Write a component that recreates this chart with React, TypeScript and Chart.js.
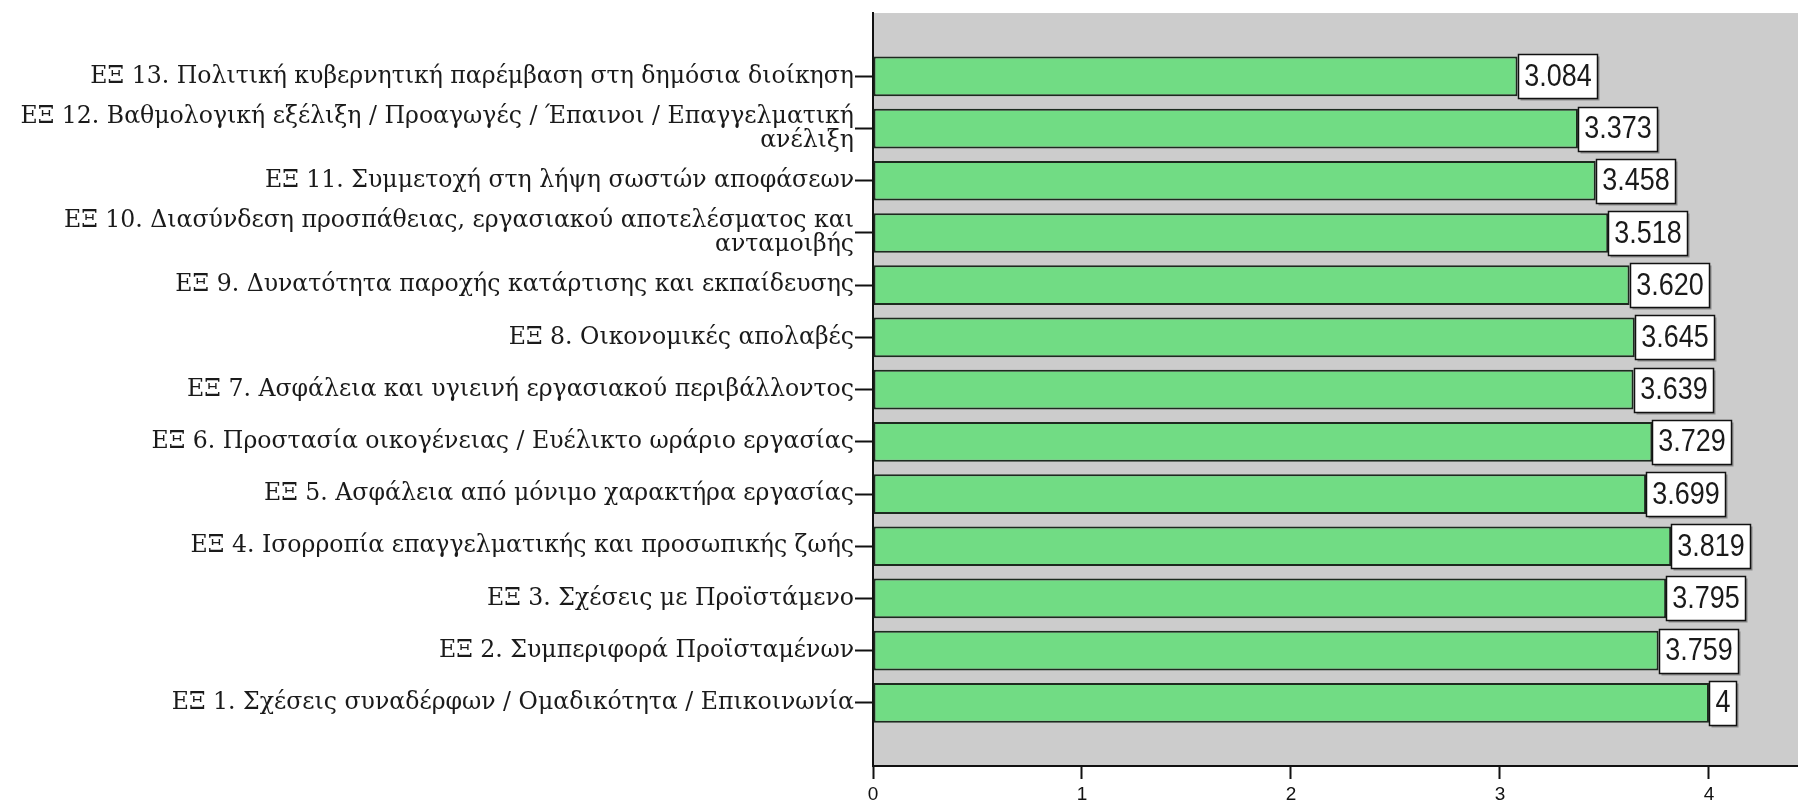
import React, { useEffect, useRef } from "react";
import { Chart, registerables } from "chart.js";

Chart.register(...registerables);

// Factor labels, bottom (ΕΞ 1) to top (ΕΞ 13)
const factorLabels: (string | string[])[] = [
  "ΕΞ 1. Σχέσεις συναδέρφων / Ομαδικότητα / Επικοινωνία",
  "ΕΞ 2. Συμπεριφορά Προϊσταμένων",
  "ΕΞ 3. Σχέσεις με Προϊστάμενο",
  "ΕΞ 4. Ισορροπία επαγγελματικής και προσωπικής ζωής",
  "ΕΞ 5. Ασφάλεια από μόνιμο χαρακτήρα εργασίας",
  "ΕΞ 6. Προστασία οικογένειας / Ευέλικτο ωράριο εργασίας",
  "ΕΞ 7. Ασφάλεια και υγιεινή εργασιακού περιβάλλοντος",
  "ΕΞ 8. Οικονομικές απολαβές",
  "ΕΞ 9. Δυνατότητα παροχής κατάρτισης και εκπαίδευσης",
  ["ΕΞ 10. Διασύνδεση προσπάθειας, εργασιακού αποτελέσματος και", "ανταμοιβής"],
  "ΕΞ 11. Συμμετοχή στη λήψη σωστών αποφάσεων",
  ["ΕΞ 12. Βαθμολογική εξέλιξη / Προαγωγές / Έπαινοι / Επαγγελματική", "ανέλιξη"],
  "ΕΞ 13. Πολιτική κυβερνητική παρέμβαση στη δημόσια διοίκηση",
];

// Mean score per factor, same order as the labels
const meanScores: number[] = [
  4, 3.759, 3.795, 3.819, 3.699, 3.729, 3.639, 3.645, 3.62, 3.518, 3.458, 3.373, 3.084,
];

const xTickValues: number[] = [0, 1, 2, 3, 4];

const X_MAX = 4.426;
const Y_MIN = -1.209;
const Y_MAX = 13.213;

const LABEL_FONT = '"DejaVu Serif", "Liberation Serif", serif';
const NUM_FONT = '"Liberation Sans", Arial, sans-serif';

const formatMean = (v: number) => (Number.isInteger(v) ? String(v) : v.toFixed(3));

// Grey plot background
const plotBackground = {
  id: "plotBackground",
  beforeDraw(chart: any) {
    const { ctx, chartArea: a } = chart;
    ctx.save();
    ctx.fillStyle = "#cccccc";
    ctx.fillRect(a.left, a.top, a.right - a.left, a.bottom - a.top);
    ctx.restore();
  },
};

// Boxed mean value at the end of each bar (narrowed sans digits)
const NARROW = 0.87;
const valueBoxes = {
  id: "valueBoxes",
  afterDatasetsDraw(chart: any) {
    const ctx = chart.ctx;
    const meta = chart.getDatasetMeta(0);
    ctx.save();
    ctx.font = `31px ${NUM_FONT}`;
    ctx.textBaseline = "middle";
    ctx.textAlign = "center";
    meta.data.forEach((bar: any, i: number) => {
      const txt = formatMean(meanScores[i]);
      const { x, y, height } = bar.getProps(["x", "y", "height"], true);
      const w = Math.round(ctx.measureText(txt).width * NARROW + 12);
      const h = Math.round(height + 4);
      const left = Math.round(x) + 0.5;
      const top = Math.round(y - h / 2) + 0.5;
      ctx.fillStyle = "rgba(60,60,60,0.45)";
      ctx.fillRect(left + 2, top + 2, w, h);
      ctx.fillStyle = "#ffffff";
      ctx.fillRect(left, top, w, h);
      ctx.strokeStyle = "#111111";
      ctx.lineWidth = 1.5;
      ctx.strokeRect(left, top, w, h);
      ctx.save();
      ctx.translate(left + w / 2, y + 1);
      ctx.scale(NARROW, 1);
      ctx.fillStyle = "#1a1a1a";
      ctx.fillText(txt, 0, 0);
      ctx.restore();
    });
    ctx.restore();
  },
};

export default function App() {
  const canvasRef = useRef<HTMLCanvasElement | null>(null);

  useEffect(() => {
    document.body.style.margin = "0";
    document.body.style.overflow = "hidden";
    const canvas = canvasRef.current;
    if (!canvas) return;

    const chart = new Chart(canvas, {
      type: "bar",
      data: {
        datasets: [
          {
            data: meanScores.map((v, i) => ({ x: v, y: i })),
            backgroundColor: "#71dc84",
            borderColor: "#1d2a1f",
            borderWidth: 2,
            borderSkipped: false,
            barPercentage: 0.76,
            categoryPercentage: 1,
          } as any,
        ],
      },
      options: {
        indexAxis: "y",
        responsive: false,
        animation: false,
        devicePixelRatio: 1,
        layout: { padding: { top: 9, left: 0, right: 0, bottom: 0 } },
        plugins: {
          legend: { display: false },
          tooltip: { enabled: false },
        },
        scales: {
          x: {
            type: "linear",
            position: "bottom",
            min: 0,
            max: X_MAX,
            afterBuildTicks: (s: any) => {
              s.ticks = xTickValues.map((v) => ({ value: v }));
            },
            afterFit: (s: any) => {
              s.height = 39;
            },
            grid: {
              drawOnChartArea: false,
              drawTicks: true,
              tickLength: 13,
              tickWidth: 2,
              tickColor: "#111111",
            },
            border: { display: true, color: "#111111", width: 2 },
            ticks: {
              color: "#111111",
              padding: 4,
              maxRotation: 0,
              font: { family: NUM_FONT, size: 19 },
            },
          },
          y: {
            type: "linear",
            offset: false,
            min: Y_MIN,
            max: Y_MAX,
            afterBuildTicks: (s: any) => {
              s.ticks = factorLabels.map((_, i) => ({ value: i }));
            },
            afterFit: (s: any) => {
              s.width = 873;
            },
            grid: {
              offset: false,
              drawOnChartArea: false,
              drawTicks: true,
              tickLength: 18,
              tickWidth: 2,
              tickColor: "#111111",
            },
            border: { display: true, color: "#111111", width: 2 },
            ticks: {
              autoSkip: false,
              color: "#1a1a1a",
              padding: 1,
              font: { family: LABEL_FONT, size: 23.6, lineHeight: 1.02 },
              callback: (v: any) => factorLabels[v as number],
            },
          },
        } as any,
      },
      plugins: [plotBackground, valueBoxes],
    });

    return () => chart.destroy();
  }, []);

  return (
    <canvas
      ref={canvasRef}
      width={1798}
      height={805}
      style={{ display: "block", width: 1798, height: 805 }}
    />
  );
}
